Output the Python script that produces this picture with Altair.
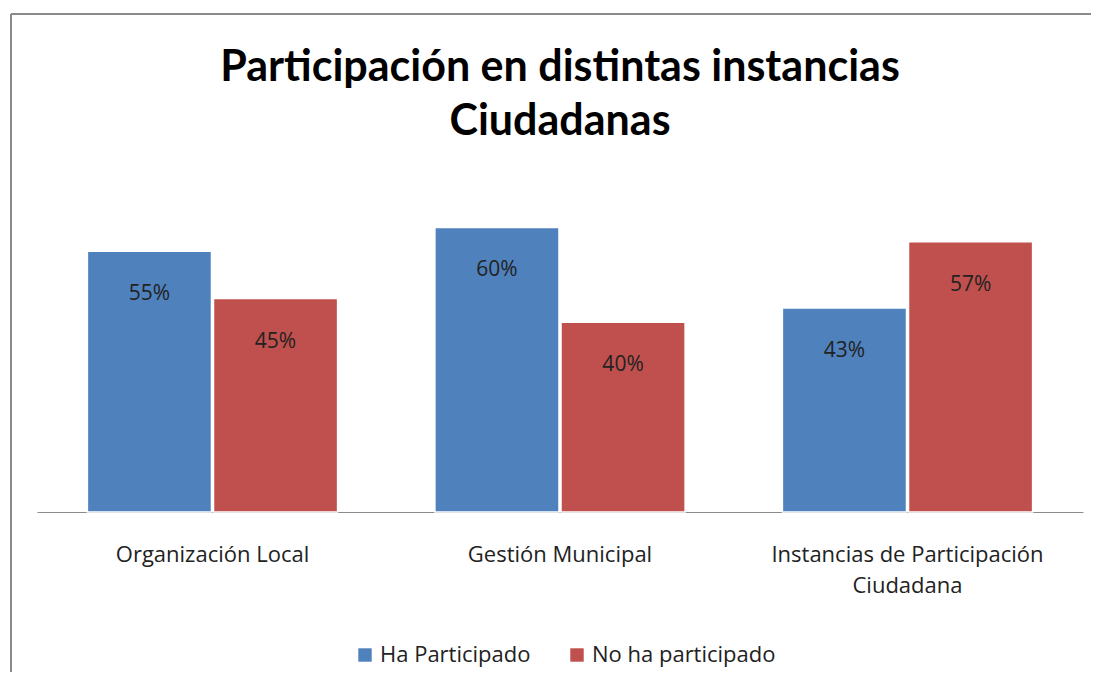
import altair as alt
import pandas as pd

categories = ["Organización Local", "Gestión Municipal", "Instancias de Participación Ciudadana"]
series = ["Ha Participado", "No ha participado"]
ha_participado = [55, 60, 43]
no_participado = [45, 40, 57]
colors = ["#4F81BD", "#C0504D"]
title_text = "Participación en distintas instancias\nCiudadanas"

rows = []
for i, c in enumerate(categories):
    rows.append({"cat": c, "serie": series[0], "val": ha_participado[i]})
    rows.append({"cat": c, "serie": series[1], "val": no_participado[i]})
df = pd.DataFrame(rows)
df["label"] = df["val"].astype(str) + "%"

FONT = "Open Sans"
TFONT = "Lato"

x_enc = alt.X("cat:N", sort=categories,
              scale=alt.Scale(paddingInner=0.28, paddingOuter=0.145),
              axis=alt.Axis(title=None, domain=True, domainColor="#8c8c8c", domainWidth=1.2,
                            ticks=False, labelAngle=0, labelFont=FONT, labelFontSize=22,
                            labelColor="#222222", labelPadding=32, labelLimit=400,
                            labelLineHeight=31,
                            labelExpr="datum.value == 'Instancias de Participación Ciudadana' ? ['Instancias de Participación', 'Ciudadana'] : datum.label"))
xo_enc = alt.XOffset("serie:N", sort=series, scale=alt.Scale(paddingInner=0.016))
y_enc = alt.Y("val:Q", scale=alt.Scale(domain=[0, 70]), axis=None)

base = alt.Chart(df)

bars = base.mark_bar(stroke="white", strokeWidth=1.5).encode(
    x=x_enc, xOffset=xo_enc, y=y_enc,
    color=alt.Color("serie:N", sort=series,
                    scale=alt.Scale(domain=series, range=colors),
                    legend=alt.Legend(title=None, orient="none", direction="horizontal",
                                      legendX=317, legendY=464, symbolType="square",
                                      symbolSize=180, symbolStrokeWidth=0,
                                      labelFont=FONT, labelFontSize=22, labelColor="#222222",
                                      labelLimit=400, columnPadding=35, labelOffset=4))
)

text = base.mark_text(font=FONT, fontSize=21, color="#222222", baseline="middle", dy=43).encode(
    x=alt.X("cat:N", sort=categories), xOffset=alt.XOffset("serie:N", sort=series),
    y="val:Q", text="label:N"
)

title = alt.Chart(pd.DataFrame({"t": [title_text]})).mark_text(
    font=TFONT, fontSize=43, fontWeight="bold", color="#000000", align="center",
    baseline="alphabetic", lineBreak="\n", lineHeight=54
).encode(x=alt.value(523), y=alt.value(-99), text="t:N")

frame_left = alt.Chart(pd.DataFrame({"a": [0]})).mark_rule(color="#8a8a8a", strokeWidth=2).encode(
    x=alt.value(-26), y=alt.value(-166), y2=alt.value(600))
frame_top = alt.Chart(pd.DataFrame({"a": [0]})).mark_rule(color="#8a8a8a", strokeWidth=2).encode(
    y=alt.value(-166), x=alt.value(-26), x2=alt.value(1100))

chart = alt.layer(frame_left, frame_top, title, bars, text).properties(
    width=1046, height=332,
    padding={"left": 29, "top": 172, "right": 8, "bottom": 160},
    autosize=alt.AutoSizeParams(type="none"),
    background="white",
).configure_view(stroke=None, strokeWidth=0)

chart.save("out.html", embed_options={"renderer": "svg", "actions": False})
